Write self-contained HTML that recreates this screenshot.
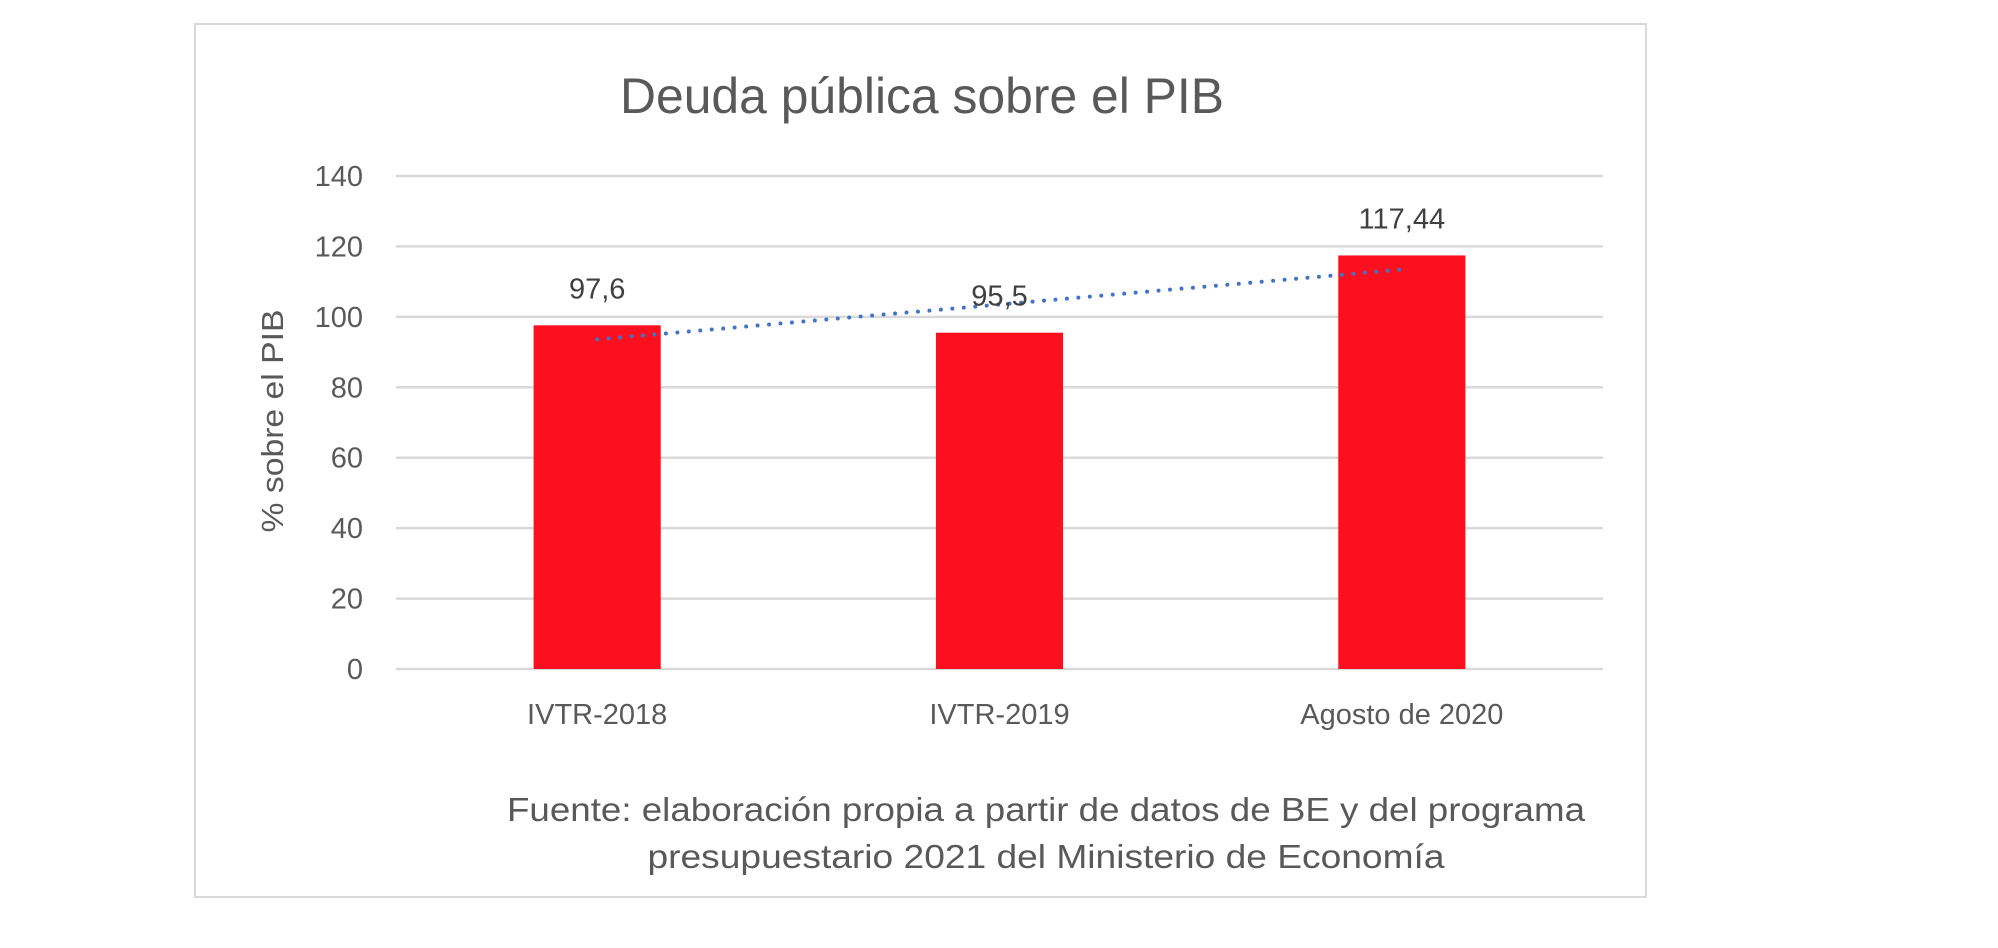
<!DOCTYPE html>
<html><head><meta charset="utf-8"><style>
html,body{margin:0;padding:0;background:#fff;width:1998px;height:948px;overflow:hidden}
svg{display:block;font-family:"Liberation Sans",sans-serif}
</style></head><body>
<svg id="chart" width="1998" height="948">
<rect x="195" y="24" width="1451" height="873" fill="#fff" stroke="#d9d9d9" stroke-width="2"/>
<text x="922" y="113" text-anchor="middle" font-size="50" fill="#595959" textLength="604" lengthAdjust="spacingAndGlyphs">Deuda pública sobre el PIB</text>
<text transform="translate(283,421) rotate(-90)" text-anchor="middle" font-size="31" fill="#595959" textLength="223" lengthAdjust="spacingAndGlyphs">% sobre el PIB</text>
<g id="grid"></g><g id="bars"></g><g id="trend"></g><g id="labels"></g>
<text x="1046" y="821" text-anchor="middle" font-size="33" fill="#595959" textLength="1078" lengthAdjust="spacingAndGlyphs">Fuente: elaboración propia a partir de datos de BE y del programa</text>
<text x="1046" y="868" text-anchor="middle" font-size="33" fill="#595959" textLength="797" lengthAdjust="spacingAndGlyphs">presupuestario 2021 del Ministerio de Economía</text>
</svg>
<script>
const categories = ["IVTR-2018", "IVTR-2019", "Agosto de 2020"];
const values = [97.6, 95.5, 117.44];
const valueLabels = ["97,6", "95,5", "117,44"];
const yTicks = [0, 20, 40, 60, 80, 100, 120, 140];

const NS = "http://www.w3.org/2000/svg";
const X0 = 396, X1 = 1603, Y0 = 669, Y1 = 176, YMAX = 140;
const band = (X1 - X0) / categories.length;
const xc = i => X0 + band * (i + 0.5);
const y = v => Y0 - (v / YMAX) * (Y0 - Y1);
function mk(tag, attrs, parent) {
  const e = document.createElementNS(NS, tag);
  for (const k in attrs) e.setAttribute(k, attrs[k]);
  parent.appendChild(e); return e;
}
const grid = document.getElementById('grid'), bars = document.getElementById('bars'),
      trend = document.getElementById('trend'), labels = document.getElementById('labels');
yTicks.forEach(t => {
  const l = mk('line', {x1: X0, x2: X1, y1: y(t), y2: y(t), stroke: '#d9d9d9', 'stroke-width': 2.5}, grid);
  
  
  const tx = mk('text', {x: 363, y: y(t) + 10, 'text-anchor': 'end', 'font-size': 29, fill: '#595959'}, grid);
  tx.textContent = t;
  
  
});
const bw = band * 0.316;
values.forEach((v, i) => {
  const r = mk('rect', {x: xc(i) - bw / 2, y: y(v), width: bw, height: Y0 - y(v), fill: '#fc0f1f'}, bars);
  
  
  const vl = mk('text', {x: xc(i), y: y(v) - 27, 'text-anchor': 'middle', 'font-size': 29, fill: '#404040'}, labels);
  vl.textContent = valueLabels[i];
  
  
  const cl = mk('text', {x: xc(i), y: 724, 'text-anchor': 'middle', 'font-size': 29, fill: '#595959'}, labels);
  cl.textContent = categories[i];
  
  
});
const n = values.length;
const mx = (n - 1) / 2, my = values.reduce((a, b) => a + b, 0) / n;
let num = 0, den = 0;
values.forEach((v, i) => { num += (i - mx) * (v - my); den += (i - mx) ** 2; });
const slope = num / den, icpt = my - slope * mx;
const tl = mk('line', {x1: xc(0), y1: y(icpt), x2: xc(n - 1), y2: y(icpt + slope * (n - 1)),
  stroke: '#4472c4', 'stroke-width': 4, 'stroke-dasharray': '0 11.5', 'stroke-linecap': 'round'}, trend);


</script>
</body></html>
